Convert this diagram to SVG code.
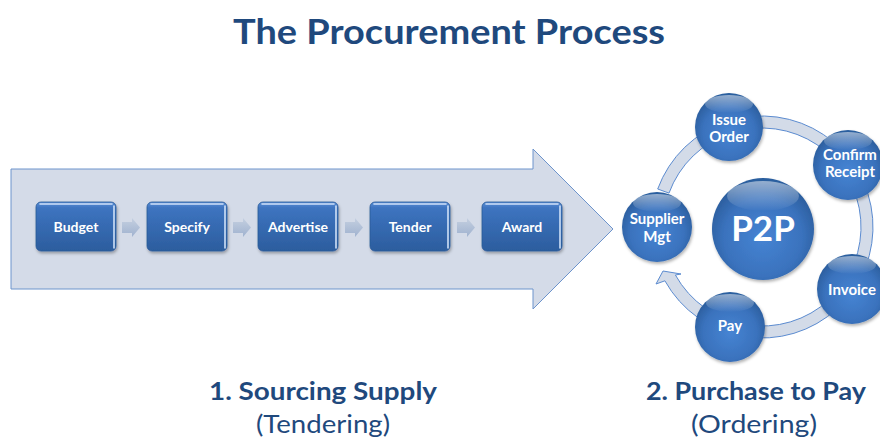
<svg xmlns="http://www.w3.org/2000/svg" width="880" height="439" viewBox="0 0 880 439">
<style>
.title{font-family:Lato,"Open Sans","Liberation Sans",sans-serif;font-weight:bold;fill:#1f497d}
.lbl{font-family:Lato,"Open Sans","Liberation Sans",sans-serif;fill:#1f497d}
.nt{font-family:Lato,"Open Sans","Liberation Sans",sans-serif;font-weight:bold;fill:#ffffff;text-anchor:middle}
.box{fill:url(#boxg);stroke:#2a5a98;stroke-width:0.8;filter:url(#sh)}
.hl{fill:none;stroke:#cfe0f7;stroke-width:1.6;stroke-linecap:round}
.circ{fill:url(#cg);filter:url(#sh)}
.sm{fill:url(#ag)}
</style>
<defs>
<linearGradient id="boxg" x1="0" y1="0" x2="0" y2="1">
<stop offset="0" stop-color="#5a8fd6"/>
<stop offset="0.12" stop-color="#3d74c0"/>
<stop offset="1" stop-color="#2c5d9e"/>
</linearGradient>
<radialGradient id="cg" cx="0.5" cy="0.58" r="0.55">
<stop offset="0" stop-color="#4684d3"/>
<stop offset="0.7" stop-color="#3a72bd"/>
<stop offset="1" stop-color="#2c5f9f"/>
</radialGradient>
<linearGradient id="ag" x1="0" y1="0" x2="0" y2="1">
<stop offset="0" stop-color="#c4cfe0"/>
<stop offset="1" stop-color="#9fb2cf"/>
</linearGradient>
<linearGradient id="gloss" x1="0" y1="0" x2="0" y2="1">
<stop offset="0" stop-color="#ffffff" stop-opacity="0.5"/>
<stop offset="1" stop-color="#ffffff" stop-opacity="0"/>
</linearGradient>
<filter id="sh" x="-20%" y="-20%" width="140%" height="150%">
<feDropShadow dx="1" dy="2" stdDeviation="1.5" flood-color="#000" flood-opacity="0.3"/>
</filter>
</defs>
<rect width="880" height="439" fill="#ffffff"/>
<text class="title" x="449" y="44" font-size="34" text-anchor="middle" textLength="432" lengthAdjust="spacingAndGlyphs">The Procurement Process</text>

<g id="sourcing-arrow">
<path d="M11,169 L533,169 L533,149 L613,229 L533,309 L533,289 L11,289 Z" fill="#d4dbe8" stroke="#6d94cc" stroke-width="1"/>
</g>

<g id="connectors">
<path class="sm" d="M122,222 L132,222 L132,218 L140,227.5 L132,237 L132,233 L122,233 Z"/>
<path class="sm" d="M233,222 L243,222 L243,218 L251,227.5 L243,237 L243,233 L233,233 Z"/>
<path class="sm" d="M345,222 L355,222 L355,218 L363,227.5 L355,237 L355,233 L345,233 Z"/>
<path class="sm" d="M457,222 L467,222 L467,218 L475,227.5 L467,237 L467,233 L457,233 Z"/>
<path id="cycle-arrow" d="M657.7,189 A111,111 0 1 1 664.9,280.8 L656,284 L663,271 L681,274 L675.4,275 A99,99 0 1 0 669,193.1 Z" fill="#d3dbe8" stroke="#5b8bd0" stroke-width="1"/>
</g>

<g id="budget">
<rect class="box" x="36" y="202" width="80" height="49" rx="5"/>
<path class="hl" d="M40,204 L112,204 M114,206 L114,248"/>
<text class="nt" x="76" y="232" font-size="14">Budget</text>
</g>
<g id="specify">
<rect class="box" x="147" y="202" width="80" height="49" rx="5"/>
<path class="hl" d="M151,204 L223,204 M225,206 L225,248"/>
<text class="nt" x="187" y="232" font-size="14">Specify</text>
</g>
<g id="advertise">
<rect class="box" x="258" y="202" width="80" height="49" rx="5"/>
<path class="hl" d="M262,204 L334,204 M336,206 L336,248"/>
<text class="nt" x="298" y="232" font-size="14">Advertise</text>
</g>
<g id="tender">
<rect class="box" x="370" y="202" width="80" height="49" rx="5"/>
<path class="hl" d="M374,204 L446,204 M448,206 L448,248"/>
<text class="nt" x="410" y="232" font-size="14">Tender</text>
</g>
<g id="award">
<rect class="box" x="482" y="202" width="80" height="49" rx="5"/>
<path class="hl" d="M486,204 L558,204 M560,206 L560,248"/>
<text class="nt" x="522" y="232" font-size="14">Award</text>
</g>

<g id="p2p">
<circle class="circ" cx="763" cy="229" r="51"/>
<ellipse cx="763" cy="196" rx="36" ry="15" fill="url(#gloss)"/>
<text class="nt" x="763" y="241" font-size="35">P2P</text>
</g>
<g id="issue-order">
<circle class="circ" cx="729" cy="127" r="34"/>
<ellipse cx="729" cy="104" rx="24" ry="9" fill="url(#gloss)"/>
<text class="nt" x="729" y="125" font-size="15">Issue</text>
<text class="nt" x="729" y="142" font-size="15">Order</text>
</g>
<g id="confirm-receipt">
<circle class="circ" cx="848" cy="165" r="35"/>
<ellipse cx="848" cy="141" rx="24" ry="9" fill="url(#gloss)"/>
<text class="nt" x="850" y="160" font-size="15">Confirm</text>
<text class="nt" x="850" y="177" font-size="15">Receipt</text>
</g>
<g id="invoice">
<circle class="circ" cx="852" cy="289" r="35"/>
<ellipse cx="852" cy="265" rx="24" ry="9" fill="url(#gloss)"/>
<text class="nt" x="852" y="295" font-size="15">Invoice</text>
</g>
<g id="pay">
<circle class="circ" cx="730" cy="327" r="35"/>
<ellipse cx="730" cy="303" rx="24" ry="9" fill="url(#gloss)"/>
<text class="nt" x="730" y="331" font-size="15">Pay</text>
</g>
<g id="supplier-mgt">
<circle class="circ" cx="657" cy="227" r="35"/>
<ellipse cx="657" cy="203" rx="24" ry="9" fill="url(#gloss)"/>
<text class="nt" x="657" y="224" font-size="15">Supplier</text>
<text class="nt" x="657" y="242" font-size="15">Mgt</text>
</g>

<text class="lbl" x="323" y="400" font-size="25" font-weight="bold" text-anchor="middle" textLength="228" lengthAdjust="spacingAndGlyphs">1. Sourcing Supply</text>
<text class="lbl" x="323" y="433" font-size="25" text-anchor="middle" textLength="134" lengthAdjust="spacingAndGlyphs">(Tendering)</text>
<text class="lbl" x="756" y="400" font-size="25" font-weight="bold" text-anchor="middle" textLength="220" lengthAdjust="spacingAndGlyphs">2. Purchase to Pay</text>
<text class="lbl" x="754" y="433" font-size="25" text-anchor="middle" textLength="126" lengthAdjust="spacingAndGlyphs">(Ordering)</text>
</svg>
